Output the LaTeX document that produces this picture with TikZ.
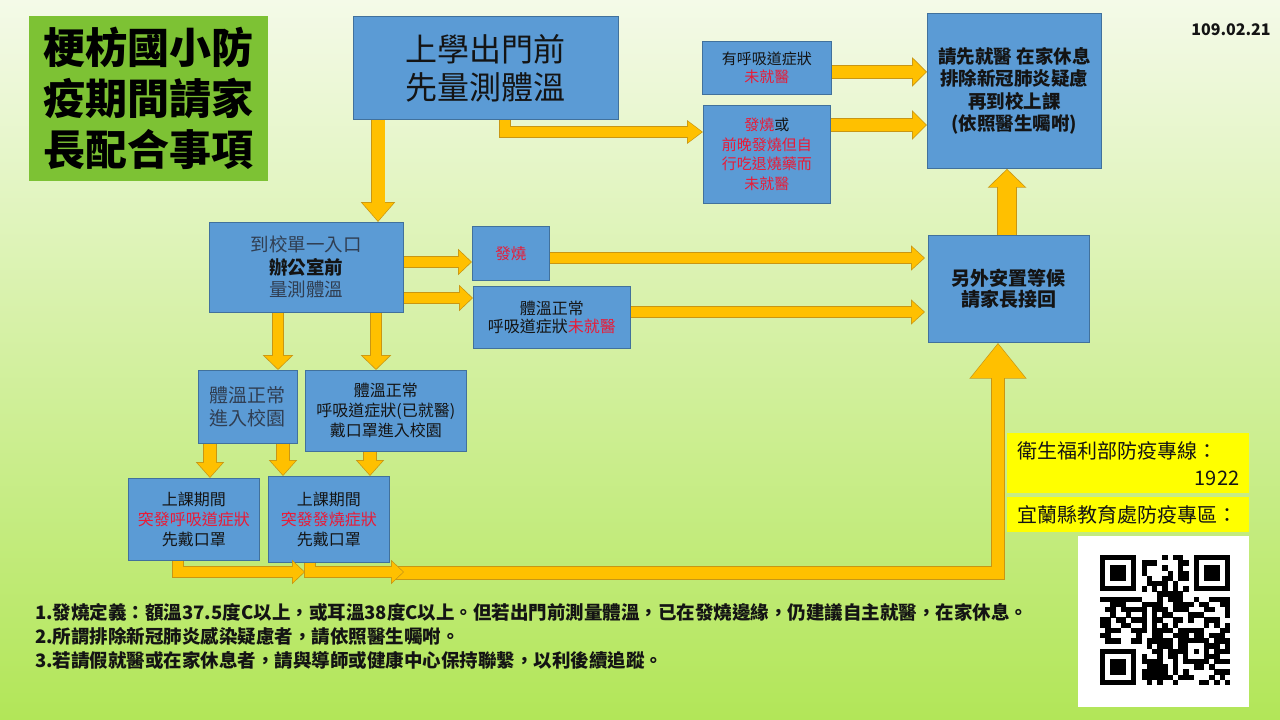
\documentclass[tikz,border=0pt]{standalone}
\usepackage{fontspec}
\setmainfont{Noto Sans CJK TC}
\usetikzlibrary{arrows.meta,calc}
\definecolor{bgtop}{RGB}{244,250,232}
\definecolor{bgbot}{RGB}{178,230,88}
\definecolor{boxfill}{RGB}{91,155,213}
\definecolor{boxedge}{RGB}{65,113,156}
\definecolor{arrfill}{RGB}{255,192,0}
\definecolor{arredge}{RGB}{200,150,20}
\definecolor{titlegreen}{RGB}{125,194,52}
\definecolor{txtred}{RGB}{232,28,56}
\definecolor{slate}{RGB}{48,62,82}
\definecolor{txtdark}{RGB}{20,20,20}
\definecolor{hlyellow}{RGB}{255,255,0}
\newcommand\fatarr[4]{%
  \pgfmathsetlengthmacro\faW{#1+1.6}%
  \pgfmathsetlengthmacro\faH{#2*(1+1.9/#3)}%
  \pgfmathsetlengthmacro\faL{#3+1.9}%
  \draw[draw=arredge, line width=\faW, line join=miter, -{Triangle[width=\faH,length=\faL]}] #4;%
  \draw[draw=arrfill, line width=#1pt, line join=miter, shorten >=1.1pt, -{Triangle[width=#2pt,length=#3pt]}] #4;%
}
\newcommand\fs[2]{\fontsize{#1}{#2}\selectfont}
\newcommand\rd[1]{\textcolor{txtred}{#1}}
\begin{document}
\begin{tikzpicture}[x=1pt,y=-1pt,
  bluebox/.style={draw=boxedge, fill=boxfill, line width=0.8pt, inner sep=0pt, anchor=north west, align=center, text=txtdark},
  sz/.style 2 args={minimum width=#1pt, minimum height=#2pt},
  yellowbox/.style={fill=hlyellow, inner sep=0pt, anchor=north west, align=left, text=txtdark, text width=222pt, font=\fs{20}{27}},
  note/.style={anchor=west, inner sep=0pt, text=txtdark, font=\bfseries\fs{18.5}{24}}]
\useasboundingbox (0,0) rectangle (1280,720);
\shade[top color=bgtop, bottom color=bgbot] (0,0) rectangle (1280,720);

% title
\node[fill=titlegreen, inner sep=0pt, anchor=north west, sz={239}{165}, align=center, font=\bfseries\fs{42}{51}] (title) at (29,16) {梗枋國小防\\疫期間請家\\長配合事項};
\node[font=\bfseries\fs{16}{18}, text=txtdark] (date) at (1231,30) {109.02.21};

% boxes
\node[bluebox, sz={265}{103}, font=\fs{32}{38}] (A) at (353,16) {上學出門前\\先量測體溫};
\node[bluebox, sz={129}{53}, font=\fs{15}{18}] (B) at (702,41) {有呼吸道症狀\\\rd{未就醫}};
\node[bluebox, sz={127}{98}, font=\fs{15}{19.5}] (C) at (703,105) {\rd{發燒}或\\\rd{前晚發燒但自}\\\rd{行吃退燒藥而}\\\rd{未就醫}};
\node[bluebox, sz={174}{155}, font=\bfseries\fs{18.5}{22.5}] (D) at (927,13) {請先就醫 在家休息\\排除新冠肺炎疑慮\\再到校上課\\(依照醫生囑咐)};
\node[bluebox, sz={194}{90}, font=\fs{18.5}{22.5}] (E) at (209,222) {\textcolor{slate}{到校單一入口}\\\textbf{辦公室前}\\\textcolor{slate}{量測體溫}};
\node[bluebox, sz={77}{54}, font=\fs{15.5}{18}] (F) at (472,226) {\rd{發燒}};
\node[bluebox, sz={157}{62}, font=\fs{16}{18}] (G) at (473,286) {體溫正常\\呼吸道症狀\rd{未就醫}};
\node[bluebox, sz={161}{107}, font=\bfseries\fs{19}{20.5}] (H) at (928,235) {另外安置等候\\請家長接回};
\node[bluebox, sz={99}{73}, font=\fs{19}{23}, text=slate] (I) at (198,370) {體溫正常\\進入校園};
\node[bluebox, sz={161}{81}, font=\fs{16}{20}] (J) at (305,370) {體溫正常\\呼吸道症狀(已就醫)\\戴口罩進入校園};
\node[bluebox, sz={131}{82}, font=\fs{16}{20}] (K) at (128,478) {上課期間\\\rd{突發呼吸道症狀}\\先戴口罩};
\node[bluebox, sz={121}{86}, font=\fs{16}{20}] (L) at (268,476) {上課期間\\\rd{突發發燒症狀}\\先戴口罩};

% yellow info boxes
\node[yellowbox, minimum width=242pt, minimum height=60pt] (Y1) at (1007,433) {衛生福利部防疫專線：\\\makebox[222pt][r]{1922}};
\node[yellowbox, minimum width=242pt, minimum height=35pt] (Y2) at (1007,497) {宜蘭縣教育處防疫專區：};
\node[fill=white, inner sep=0pt, anchor=north west, minimum width=171pt, minimum height=171pt] (QR) at (1078,536) {};

% QR pattern
\begin{scope}[shift={(1100,555)}]
\pgfmathsetseed{7}
\foreach \i in {0,...,24}{
  \foreach \j in {0,...,24}{
    \pgfmathtruncatemacro\qrs{(\i<8)*(\j<8)+(\i>16)*(\j<8)+(\i<8)*(\j>16)+(\i>15)*(\i<21)*(\j>15)*(\j<21)}
    \ifnum\qrs=0
      \pgfmathtruncatemacro\qrt{(\i==6)+(\j==6)}
      \ifnum\qrt>0
        \pgfmathtruncatemacro\qrb{1-mod(\i+\j,2)}
      \else
        \pgfmathrandominteger{\qrr}{0}{99}
        \pgfmathtruncatemacro\qrb{\qrr<56}
      \fi
      \ifnum\qrb=1 \fill[black] ({5.2*\i},{5.2*\j}) rectangle ++(5.4,5.4); \fi
    \fi
  }
}
\foreach \fx/\fy in {0/0,18/0,0/18}{
  \fill[black] ({5.2*\fx},{5.2*\fy}) rectangle ++(36.4,36.4);
  \fill[white] ({5.2*\fx+5.2},{5.2*\fy+5.2}) rectangle ++(26,26);
  \fill[black] ({5.2*\fx+10.4},{5.2*\fy+10.4}) rectangle ++(15.6,15.6);
}
\fill[black] ({5.2*16},{5.2*16}) rectangle ++(26,26);
\fill[white] ({5.2*17},{5.2*17}) rectangle ++(15.6,15.6);
\fill[black] ({5.2*18},{5.2*18}) rectangle ++(5.2,5.2);
\end{scope}

% notes
\node[note] (n1) at (35,612) {1.發燒定義：額溫37.5度C以上，或耳溫38度C以上。但若出門前測量體溫，已在發燒邊緣，仍建議自主就醫，在家休息。};
\node[note] (n2) at (35,636) {2.所謂排除新冠肺炎感染疑慮者，請依照醫生囑咐。};
\node[note] (n3) at (35,660) {3.若請假就醫或在家休息者，請與導師或健康中心保持聯繫，以利後續追蹤。};

% coordinates for arrows
\coordinate (a1) at ([xshift=25pt]A.south west);
\coordinate (a2) at ([xshift=152pt]A.south west);
\coordinate (c1) at ([yshift=-27pt]C.north west);
\coordinate (b1) at ([yshift=-4pt]B.east);
\coordinate (c2) at ([yshift=-20pt]C.north east);
\coordinate (h1) at ([xshift=79pt]H.north west);
\coordinate (e1) at ([yshift=-40pt]E.north east);
\coordinate (e2) at ([yshift=-76pt]E.north east);
\coordinate (f1) at ([yshift=-32pt]F.north east);
\coordinate (g1) at ([yshift=-26pt]G.north east);
\coordinate (e3) at ([xshift=69pt]E.south west);
\coordinate (e4) at ([xshift=167pt]E.south west);
\coordinate (i1) at ([xshift=12pt]I.south west);
\coordinate (i2) at ([xshift=85pt]I.south west);
\coordinate (j1) at ([xshift=65pt]J.south west);
\coordinate (k1) at ([xshift=50pt]K.south west);
\coordinate (l1) at ([xshift=42pt]L.south west);
\coordinate (h2) at ([xshift=70pt]H.south west);
\coordinate (m1) at (305,572);
\coordinate (m2) at (404,572);
\coordinate (m3) at (395,573);

% arrows
\fatarr{13}{30}{18}{(a1) -- (a1 |- E.north)}
\fatarr{10}{20}{14}{(a2) |- (c1)}
\fatarr{12}{25}{13}{(b1) -- (b1 -| D.west)}
\fatarr{12}{25}{13}{(c2) -- (c2 -| D.west)}
\fatarr{18}{34}{17}{(h1) -- (h1 |- D.south)}
\fatarr{10}{22}{12}{(e1) -- (e1 -| F.west)}
\fatarr{10}{22}{12}{(e2) -- (e2 -| G.west)}
\fatarr{10}{21}{12}{(f1) -- ([xshift=-3pt]f1 -| H.west)}
\fatarr{10}{21}{12}{(g1) -- ([xshift=-3pt]g1 -| H.west)}
\fatarr{10}{26}{13}{(e3) -- (e3 |- I.north)}
\fatarr{10}{26}{13}{(e4) -- (e4 |- J.north)}
\fatarr{12}{24}{14}{(i1) -- (i1 |- K.north)}
\fatarr{12}{24}{14}{(i2) -- (i2 |- L.north)}
\fatarr{12}{24}{14}{(j1) -- (j1 |- L.north)}
\fatarr{12}{52}{34}{(m3) -| (h2 |- H.south)}
\fatarr{10}{20}{11}{(l1) |- (m2)}
\fatarr{10}{20}{11}{(k1) |- (m1)}
\end{tikzpicture}
\end{document}
